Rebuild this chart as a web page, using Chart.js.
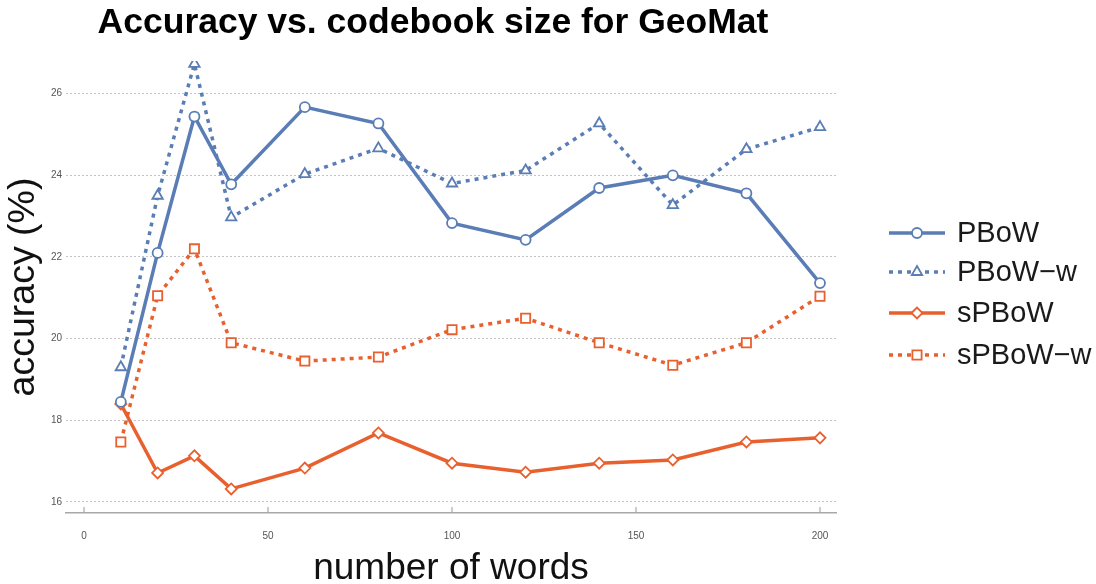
<!DOCTYPE html>
<html lang="en">
<head>
    <meta charset="utf-8">
    <title>Accuracy vs. codebook size for GeoMat</title>
    <style>
        body {
            margin: 0;
            background: white;
        }
        .chart-box {
            width: 1096px;
            height: 584px;
            position: relative;
        }
    </style>
</head>
<body>
    <div class="chart-box">
        <canvas id="chart"></canvas>
    </div>

    <script src="https://cdn.jsdelivr.net/npm/chart.js"></script>
    <script>
        const words = [10, 20, 30, 40, 60, 80, 100, 120, 140, 160, 180, 200];
        const pbow = [18.45, 22.1, 25.44, 23.78, 25.67, 25.27, 22.83, 22.42, 23.69, 24.0, 23.56, 21.36];
        const pbowW = [19.3, 23.5, 26.73, 22.97, 24.03, 24.66, 23.8, 24.12, 25.27, 23.27, 24.64, 25.18];
        const spbow = [18.4, 16.71, 17.13, 16.32, 16.83, 17.69, 16.95, 16.73, 16.95, 17.03, 17.47, 17.57];
        const spbowW = [17.47, 21.05, 22.2, 19.9, 19.45, 19.55, 20.22, 20.5, 19.9, 19.35, 19.9, 21.04];

        const xTicks = [0, 50, 100, 150, 200];
        const yTicks = [16, 18, 20, 22, 24, 26];
        const chartTitle = "Accuracy vs. codebook size for GeoMat";

        const BLUE = "#5a7db5";
        const ORANGE = "#e9602f";
        const FONT = "'Liberation Sans', Arial, sans-serif";

        const toPoints = (ys) => ys.map((y, i) => ({ x: words[i], y: y }));

        function series(label, ys, color, style, radius, dotted) {
            return {
                label: label,
                data: toPoints(ys),
                borderColor: color,
                borderWidth: 3.5,
                borderDash: dotted ? [4, 5] : [],
                pointStyle: style,
                pointRadius: radius,
                pointBorderWidth: 1.8,
                pointBorderColor: color,
                pointBackgroundColor: "#ffffff",
                tension: 0,
                fill: false
            };
        }

        // title, right-hand legend and the little x ticks
        const extras = {
            id: "extras",
            afterDraw(chart) {
                const ctx = chart.ctx;

                ctx.save();
                ctx.fillStyle = "#000000";
                ctx.font = "bold 35.5px " + FONT;
                ctx.textAlign = "center";
                ctx.textBaseline = "alphabetic";
                ctx.fillText(chartTitle, 433, 33);
                ctx.restore();

                const rows = [233, 272, 313, 355];
                chart.data.datasets.forEach((ds, i) => {
                    const y = rows[i];
                    ctx.save();
                    ctx.strokeStyle = ds.borderColor;
                    ctx.lineWidth = ds.borderWidth;
                    ctx.setLineDash(ds.borderDash);
                    ctx.beginPath();
                    ctx.moveTo(889, y);
                    ctx.lineTo(945, y);
                    ctx.stroke();
                    ctx.setLineDash([]);
                    ctx.fillStyle = "#ffffff";
                    ctx.strokeStyle = ds.borderColor;
                    ctx.lineWidth = ds.pointBorderWidth;
                    Chart.helpers.drawPoint(ctx, {
                        pointStyle: ds.pointStyle,
                        radius: ds.pointRadius,
                        borderWidth: ds.pointBorderWidth,
                        rotation: 0
                    }, 917, y);
                    ctx.fillStyle = "#1a1a1a";
                    ctx.font = "29px " + FONT;
                    ctx.textBaseline = "middle";
                    ctx.textAlign = "left";
                    ctx.fillText(ds.label, 957, y + 1);
                    ctx.restore();
                });

                const xs = chart.scales.x;
                const bottom = chart.chartArea.bottom;
                ctx.save();
                ctx.strokeStyle = "#a8a8a8";
                ctx.lineWidth = 1.2;
                xTicks.forEach((v) => {
                    const px = xs.getPixelForValue(v);
                    ctx.beginPath();
                    ctx.moveTo(px, bottom);
                    ctx.lineTo(px, bottom - 6);
                    ctx.stroke();
                });
                ctx.restore();
            }
        };

        new Chart(document.getElementById("chart"), {
            type: "line",
            data: {
                datasets: [
                    series("PBoW", pbow, BLUE, "circle", 5, false),
                    series("PBoW\u2212w", pbowW, BLUE, "triangle", 6, true),
                    series("sPBoW", spbow, ORANGE, "rectRot", 5.5, false),
                    series("sPBoW\u2212w", spbowW, ORANGE, "rect", 6.5, true)
                ]
            },
            options: {
                responsive: true,
                maintainAspectRatio: false,
                animation: false,
                layout: { padding: { left: 0, right: 260, top: 61, bottom: 0 } },
                plugins: {
                    legend: { display: false },
                    tooltip: { enabled: false },
                    title: { display: false }
                },
                scales: {
                    x: {
                        type: "linear",
                        min: -4.9,
                        max: 204.35,
                        afterBuildTicks: (s) => { s.ticks = xTicks.map((v) => ({ value: v })); },
                        afterFit: (s) => { s.height = 71; },
                        grid: { display: false },
                        border: { display: true, color: "#a8a8a8", width: 1.5 },
                        ticks: {
                            color: "#555555",
                            padding: 9,
                            maxRotation: 0,
                            font: { family: FONT, size: 10 }
                        },
                        title: {
                            display: true,
                            text: "number of words",
                            color: "#111111",
                            font: { family: FONT, size: 37, lineHeight: 0.8 },
                            padding: { top: 0, bottom: 0 }
                        }
                    },
                    y: {
                        min: 15.73,
                        max: 26.8,
                        afterBuildTicks: (s) => { s.ticks = yTicks.map((v) => ({ value: v })); },
                        afterFit: (s) => { s.width = 66; },
                        grid: { color: "#c4c4c4", lineWidth: 1, drawTicks: false },
                        border: { display: false, dash: [2, 2] },
                        ticks: {
                            color: "#555555",
                            padding: 4,
                            font: { family: FONT, size: 10 }
                        },
                        title: {
                            display: true,
                            text: "accuracy (%)",
                            color: "#111111",
                            font: { family: FONT, size: 37.5, lineHeight: 1 },
                            padding: { top: 5, bottom: 0 }
                        }
                    }
                }
            },
            plugins: [extras]
        });
    </script>
</body>
</html>
